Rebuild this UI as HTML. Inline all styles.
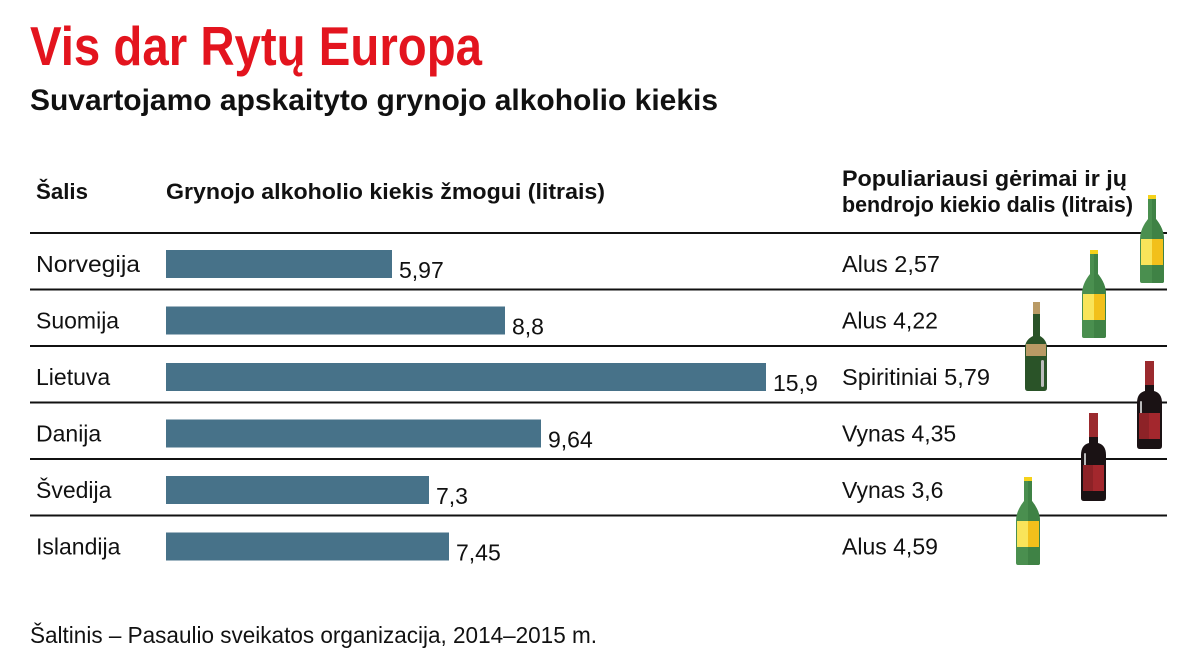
<!DOCTYPE html>
<html><head><meta charset="utf-8"><style>
html,body{margin:0;padding:0;background:#fff;}
svg{display:block;}
text{font-family:"Liberation Sans Narrow","Liberation Sans",sans-serif;}
</style></head><body>
<svg width="1200" height="672" viewBox="0 0 1200 672" xmlns="http://www.w3.org/2000/svg">
<defs>
<g id="beer">
 <rect x="9" y="0" width="8" height="4" fill="#f5d21a"/>
 <path d="M9 4 H17 V24 Q25 34 25 44 V86 Q25 88 23 88 H3 Q1 88 1 86 V44 Q1 34 9 24 Z" fill="#4a8f4f"/>
 <path d="M13 4 H17 V24 Q25 34 25 44 V86 Q25 88 23 88 H13 Z" fill="#3f8245"/>
 <rect x="2" y="44" width="22" height="26" fill="#f9e45a"/>
 <rect x="13" y="44" width="11" height="26" fill="#f2c01b"/>
</g>
<g id="wine">
 <rect x="8" y="0" width="9" height="24" fill="#9b2a2e"/>
 <path d="M8 24 H17 V30 Q25 32 25 42 V85 Q25 88 22 88 H3 Q0 88 0 85 V42 Q0 32 8 30 Z" fill="#1a1214"/>
 <rect x="3" y="40" width="2" height="20" rx="1" fill="#bbb"/>
 <rect x="2" y="52" width="21" height="26" fill="#a3272d"/>
 <rect x="2" y="52" width="10" height="26" fill="#8d2227"/>
</g>
<g id="spirit">
 <rect x="8" y="0" width="7" height="12" fill="#b99a65"/>
 <path d="M8 12 H15 V34 Q22 38 22 46 V86 Q22 89 19 89 H3 Q0 89 0 86 V46 Q0 38 8 34 Z" fill="#2a5328"/>
 <rect x="1" y="42" width="20" height="12" fill="#b99a65"/>
 <rect x="16" y="58" width="3" height="27" rx="1.5" fill="#bcbcbc"/>
</g>
</defs>

<text x="30" y="65" font-size="55" font-weight="bold" fill="#e3141e" textLength="452" lengthAdjust="spacingAndGlyphs">Vis dar Rytų Europa</text>
<text x="30" y="110" font-size="30" font-weight="bold" fill="#111" textLength="688" lengthAdjust="spacingAndGlyphs">Suvartojamo apskaityto grynojo alkoholio kiekis</text>

<text x="36" y="199" font-size="22" font-weight="bold" fill="#111" textLength="52" lengthAdjust="spacingAndGlyphs">Šalis</text>
<text x="166" y="199" font-size="22" font-weight="bold" fill="#111" textLength="439" lengthAdjust="spacingAndGlyphs">Grynojo alkoholio kiekis žmogui (litrais)</text>
<text x="842" y="186" font-size="22" font-weight="bold" fill="#111" textLength="285" lengthAdjust="spacingAndGlyphs">Populiariausi gėrimai ir jų</text>
<text x="842" y="212" font-size="22" font-weight="bold" fill="#111" textLength="291" lengthAdjust="spacingAndGlyphs">bendrojo kiekio dalis (litrais)</text>

<g stroke="#111" stroke-width="2">
<line x1="30" y1="233" x2="1167" y2="233"/>
<line x1="30" y1="289.5" x2="1167" y2="289.5"/>
<line x1="30" y1="346" x2="1167" y2="346"/>
<line x1="30" y1="402.5" x2="1167" y2="402.5"/>
<line x1="30" y1="459" x2="1167" y2="459"/>
<line x1="30" y1="515.5" x2="1167" y2="515.5"/>
</g>

<g fill="#477289">
<rect x="166" y="250" width="226" height="28"/>
<rect x="166" y="306.5" width="339" height="28"/>
<rect x="166" y="363" width="600" height="28"/>
<rect x="166" y="419.5" width="375" height="28"/>
<rect x="166" y="476" width="263" height="28"/>
<rect x="166" y="532.5" width="283" height="28"/>
</g>

<g font-size="23" fill="#111">
<text x="36" y="272" textLength="104" lengthAdjust="spacingAndGlyphs">Norvegija</text>
<text x="36" y="328.5">Suomija</text>
<text x="36" y="385">Lietuva</text>
<text x="36" y="441.5">Danija</text>
<text x="36" y="498">Švedija</text>
<text x="36" y="554.5">Islandija</text>

<text x="399" y="278">5,97</text>
<text x="512" y="334.5">8,8</text>
<text x="773" y="391">15,9</text>
<text x="548" y="447.5">9,64</text>
<text x="436" y="504">7,3</text>
<text x="456" y="560.5">7,45</text>

<text x="842" y="272" textLength="98" lengthAdjust="spacingAndGlyphs">Alus 2,57</text>
<text x="842" y="328.5">Alus 4,22</text>
<text x="842" y="385" textLength="148" lengthAdjust="spacingAndGlyphs">Spiritiniai 5,79</text>
<text x="842" y="441.5">Vynas 4,35</text>
<text x="842" y="498">Vynas 3,6</text>
<text x="842" y="554.5">Alus 4,59</text>

<text x="30" y="643" textLength="567" lengthAdjust="spacingAndGlyphs">Šaltinis – Pasaulio sveikatos organizacija, 2014–2015 m.</text>
</g>

<use href="#beer" x="1139" y="195"/>
<use href="#beer" x="1081" y="250"/>
<use href="#spirit" x="1025" y="302"/>
<use href="#wine" x="1137" y="361"/>
<use href="#wine" x="1081" y="413"/>
<use href="#beer" x="1015" y="477"/>
</svg>
</body></html>
